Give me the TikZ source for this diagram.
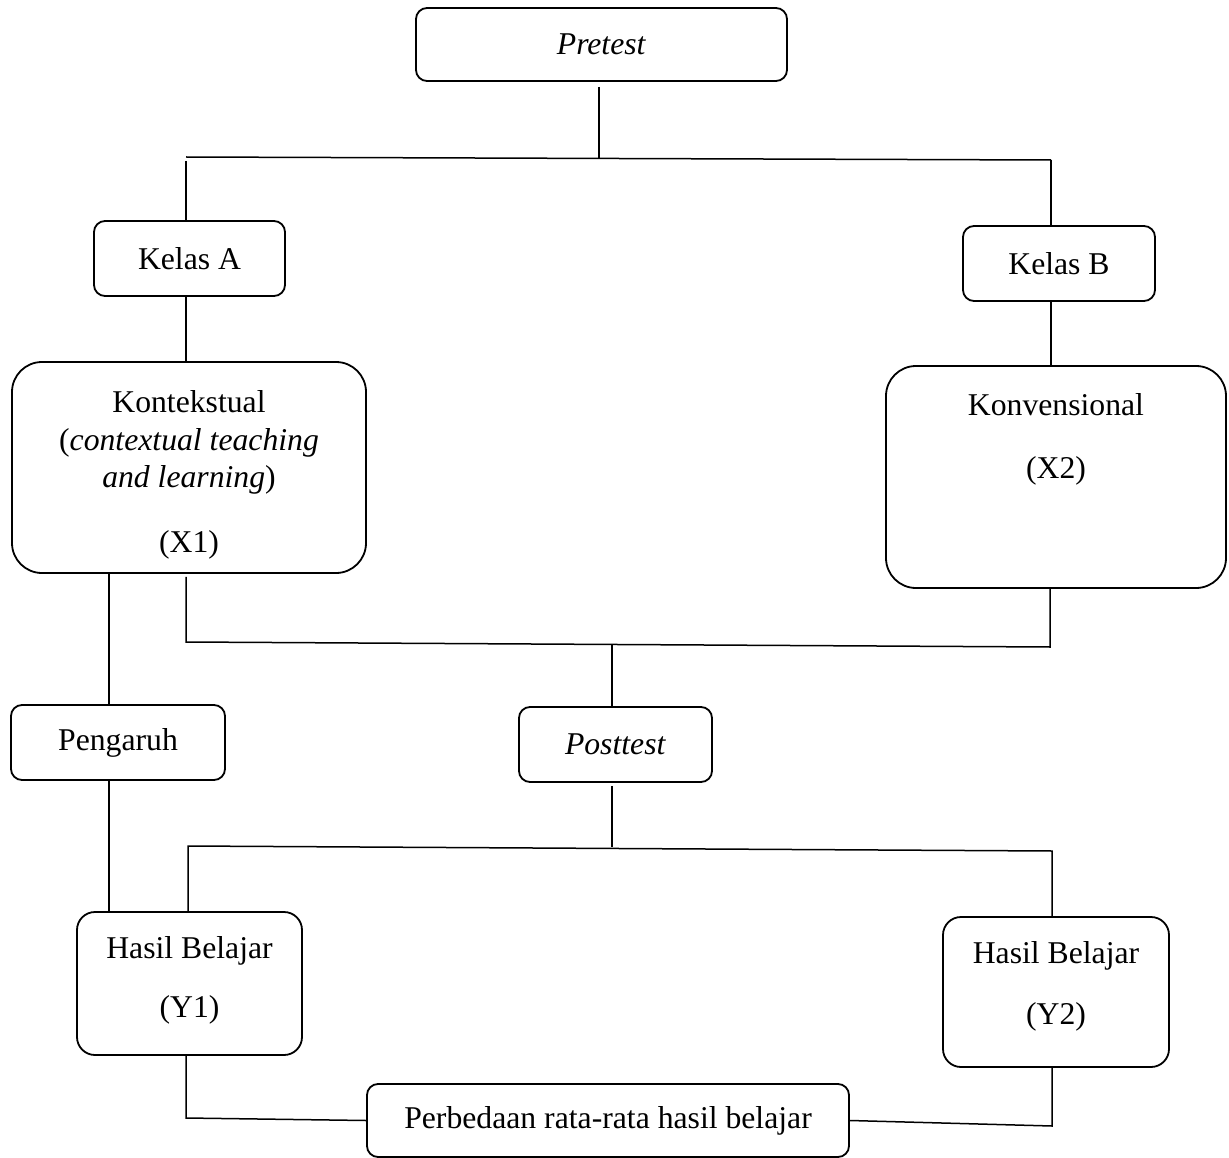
\documentclass[tikz,border=0pt]{standalone}
\usepackage{fontspec}
\setmainfont{Liberation Serif}
\usepackage{tikz}
\usetikzlibrary{positioning}

\begin{document}
\begin{tikzpicture}[%
    x=1pt,
    y=-1pt,
    line width=1.5pt,
    box/.style={%
      rectangle,
      rounded corners=11pt,
      draw,
      line width=1.8pt,
      inner sep=0pt,
      font=\fontsize{31.7}{38}\selectfont
    },
    bigbox/.style={%
      box,
      rounded corners=30pt
    },
    midbox/.style={%
      box,
      rounded corners=18pt
    },
    txt/.style={%
      anchor=base,
      inner sep=0pt,
      font=\fontsize{31.7}{38}\selectfont
    },
    heavy/.style={line width=2.6pt}
  ]
    \useasboundingbox (0,0) rectangle (1229,1158);

    \node[box, minimum width=371pt, minimum height=73pt] (pre)  at (601.5,44.5)  {\textit{Pretest}};
    \node[box, minimum width=191pt, minimum height=75pt] (kA)   at (189.5,258.5) {Kelas A};
    \node[box, minimum width=192pt, minimum height=75pt] (kB)   at (1059,263.5)  {Kelas B};
    \node[bigbox, minimum width=354pt, minimum height=211pt] (ctl)  at (189,467.5) {};
    \node[bigbox, minimum width=340pt, minimum height=222pt] (konv) at (1056,477)  {};
    \node[box, minimum width=214pt, minimum height=75pt] (peng) at (118,742.5)   {Pengaruh};
    \node[box, minimum width=193pt, minimum height=75pt] (post) at (615.5,744.5) {\textit{Posttest}};
    \node[midbox, minimum width=225pt, minimum height=143pt] (y1) at (189.5,983.5) {};
    \node[midbox, minimum width=226pt, minimum height=150pt] (y2) at (1056,992)    {};
    \node[box, minimum width=482pt, minimum height=73pt] (beda) at (608,1120.5)  {Perbedaan rata-rata hasil belajar};

    \node[txt] (ctl1) at (189,412) {Kontekstual};
    \node[txt] (ctl2) at (189,450) {(\textit{contextual teaching}};
    \node[txt] (ctl3) at (189,487) {\textit{and learning})};
    \node[txt] (ctl4) at (189,552) {(X1)};
    \node[txt] (konv1) at (1056,415) {Konvensional};
    \node[txt] (konv2) at (1056,478) {(X2)};
    \node[txt] (y1a) at (189.5,958)  {Hasil Belajar};
    \node[txt] (y1b) at (189.5,1017) {(Y1)};
    \node[txt] (y2a) at (1056,963)   {Hasil Belajar};
    \node[txt] (y2b) at (1056,1024)  {(Y2)};

    \coordinate (tl) at (186,157);
    \coordinate (tm) at (599,158);
    \coordinate (tr) at (1051,160);
    \coordinate (pl) at (109,742);
    \coordinate (ml) at (186,642);
    \coordinate (mm) at (612,645);
    \coordinate (mr) at (1050,647);
    \coordinate (ll) at (188,846);
    \coordinate (lm) at (612,847);
    \coordinate (lr) at (1052,851);
    \coordinate (bl) at (186,1118);
    \coordinate (br) at (1052,1126);

    \draw[shorten <=5pt] (pre.south -| tm) -- (tm);
    \draw (tl) -- (tr);
    \draw[shorten <=4pt] (tl) -- (tl |- kA.north);
    \draw (tr) -- (tr |- kB.north);
    \draw (kA.south -| tl) -- (ctl.north -| tl);
    \draw (kB.south -| tr) -- (konv.north -| tr);

    \draw[heavy] (ctl.south -| pl) -- (peng.north -| pl);
    \draw[heavy] (peng.south -| pl) -- (y1.north -| pl);

    \draw[shorten <=3pt] (ml |- ctl.south) -- (ml) -- (mr) -- (mr |- konv.south);
    \draw (mm) -- (mm |- post.north);

    \draw[shorten <=3pt] (post.south -| lm) -- (lm);
    \draw (ll |- y1.north) -- (ll) -- (lr) -- (lr |- y2.north);

    \draw (bl |- y1.south) -- (bl) -- (beda.west);
    \draw (br |- y2.south) -- (br) -- (beda.east);
  \end{tikzpicture}
\end{document}
